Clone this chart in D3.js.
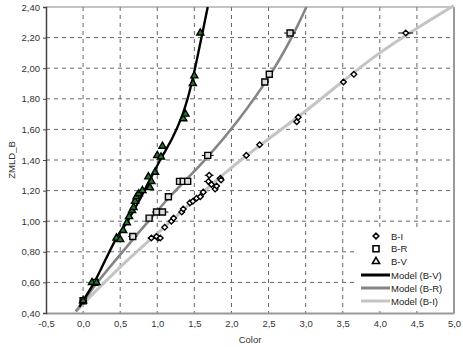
<!DOCTYPE html>
<html>
<head>
<meta charset="utf-8">
<script src="https://cdn.jsdelivr.net/npm/d3@7"></script>
<style>
  body { margin: 0; background: #fff; }
  svg { display: block; font-family: "Liberation Sans", Arial, sans-serif; }
  .tick text { fill: #333; font-size: 9.5px; }
</style>
</head>
<body>
<div id="chart"></div>
<script>
// ---- Data ----
const xTicks = [-0.5, 0, 0.5, 1, 1.5, 2, 2.5, 3, 3.5, 4, 4.5, 5];
const yTicks = [0.4, 0.6, 0.8, 1.0, 1.2, 1.4, 1.6, 1.8, 2.0, 2.2, 2.4];

// observed points: [color, ZMLD_B, half error]
const pointsBI = [
  [0.00, 0.48, 0.03], [0.16, 0.60, 0.03], [0.92, 0.89, 0.05], [1.01, 0.89, 0.05],
  [0.99, 0.90, 0.04], [1.04, 0.89, 0.04], [1.10, 0.96, 0.03], [1.19, 1.00, 0.04],
  [1.22, 1.02, 0.04], [1.33, 1.06, 0.04], [1.35, 1.08, 0.04], [1.44, 1.12, 0.04],
  [1.48, 1.13, 0.04], [1.53, 1.15, 0.04], [1.58, 1.16, 0.04], [1.62, 1.19, 0.04],
  [1.70, 1.30, 0.06], [1.69, 1.26, 0.06], [1.73, 1.24, 0.05], [1.78, 1.21, 0.04],
  [1.80, 1.23, 0.04], [1.85, 1.28, 0.05], [1.86, 1.27, 0.04], [2.20, 1.43, 0.05],
  [2.38, 1.50, 0.03], [2.88, 1.65, 0.03], [2.90, 1.68, 0.03], [3.51, 1.91, 0.03],
  [3.65, 1.96, 0.03], [4.35, 2.23, 0.10]
];
const pointsBR = [
  [0.00, 0.48, 0.03], [0.16, 0.60, 0.03], [0.67, 0.90, 0.06], [0.89, 1.02, 0.04],
  [0.99, 1.06, 0.06], [1.07, 1.06, 0.08], [1.15, 1.16, 0.03], [1.30, 1.26, 0.04],
  [1.35, 1.26, 0.04], [1.41, 1.26, 0.04], [1.68, 1.43, 0.08], [2.45, 1.91, 0.03],
  [2.51, 1.96, 0.03], [2.79, 2.23, 0.08]
];
const pointsBV = [
  [0.00, 0.48, 0.03], [0.12, 0.60, 0.03], [0.18, 0.60, 0.03], [0.45, 0.89, 0.03],
  [0.50, 0.88, 0.03], [0.54, 0.94, 0.03], [0.59, 0.99, 0.03], [0.62, 1.03, 0.03],
  [0.66, 1.07, 0.03], [0.68, 1.09, 0.03], [0.70, 1.13, 0.03], [0.72, 1.16, 0.03],
  [0.75, 1.18, 0.03], [0.80, 1.20, 0.03], [0.88, 1.29, 0.03], [0.90, 1.22, 0.03],
  [0.92, 1.26, 0.03], [0.97, 1.32, 0.03], [1.00, 1.43, 0.03], [1.05, 1.42, 0.03],
  [1.07, 1.49, 0.03], [1.35, 1.67, 0.03], [1.38, 1.70, 0.03], [1.48, 1.90, 0.03],
  [1.50, 1.95, 0.03], [1.58, 2.23, 0.03]
];

// model curves: [color, ZMLD_B]
const modelBV = [
  [-0.05, 0.44], [0.00, 0.48], [0.15, 0.60], [0.45, 0.89], [0.60, 1.00], [0.75, 1.13],
  [0.90, 1.27], [1.05, 1.41], [1.20, 1.54], [1.32, 1.67], [1.42, 1.82], [1.50, 1.98],
  [1.57, 2.14], [1.63, 2.28], [1.68, 2.40]
];
const modelBR = [
  [-0.10, 0.41], [0.00, 0.47], [0.16, 0.58], [0.67, 0.88], [0.90, 1.01], [1.15, 1.15],
  [1.68, 1.42], [2.09, 1.66], [2.50, 1.94], [2.81, 2.20], [3.01, 2.40]
];
const modelBI = [
  [-0.10, 0.41], [0.00, 0.46], [0.50, 0.70], [1.00, 0.92], [2.00, 1.35], [3.00, 1.72],
  [4.00, 2.10], [5.00, 2.41]
];

// ---- Layout ----
const W = 463, H = 347;
const margin = {top: 7, right: 9, bottom: 34, left: 46};
const w = W - margin.left - margin.right;
const h = H - margin.top - margin.bottom;

const svg = d3.select("#chart").append("svg")
  .attr("width", W).attr("height", H);

const g = svg.append("g")
  .attr("transform", `translate(${margin.left},${margin.top})`);

const x = d3.scaleLinear().domain([-0.5, 5]).range([0, w]);
const y = d3.scaleLinear().domain([0.4, 2.4]).range([h, 0]);

const fmtX = d => d3.format(".1f")(d).replace(".", ",").replace("−", "-");
const fmtY = d => d3.format(".2f")(d).replace(".", ",");

// grid
g.append("g").selectAll("line").data(xTicks.slice(1, -1)).join("line")
  .attr("x1", d => x(d)).attr("x2", d => x(d))
  .attr("y1", 0).attr("y2", h)
  .attr("stroke", "#666").attr("stroke-dasharray", "4,4");
g.append("g").selectAll("line").data(yTicks.slice(1, -1)).join("line")
  .attr("x1", 0).attr("x2", w)
  .attr("y1", d => y(d)).attr("y2", d => y(d))
  .attr("stroke", "#666").attr("stroke-dasharray", "4,4");

// frame: top and right in gray
g.append("line").attr("x1", 0).attr("x2", w).attr("y1", 0).attr("y2", 0)
  .attr("stroke", "#888").attr("stroke-width", 1);
g.append("line").attr("x1", w).attr("x2", w).attr("y1", 0).attr("y2", h)
  .attr("stroke", "#999").attr("stroke-width", 2);

// axes
const xAxis = g.append("g").attr("transform", `translate(0,${h})`)
  .call(d3.axisBottom(x).tickValues(xTicks).tickFormat(fmtX).tickSize(0).tickPadding(7));
xAxis.select(".domain").attr("stroke", "#999").attr("stroke-width", 2);

const yAxis = g.append("g")
  .call(d3.axisLeft(y).tickValues(yTicks).tickFormat(fmtY).tickSize(3).tickPadding(3));
yAxis.select(".domain").attr("stroke", "#444").attr("stroke-width", 1.5);
yAxis.selectAll(".tick line").attr("stroke", "#444");

svg.append("text")
  .attr("x", margin.left + w / 2).attr("y", 343)
  .attr("text-anchor", "middle").attr("font-size", 9.5).attr("fill", "#333")
  .text("Color");
svg.append("text")
  .attr("transform", `translate(15,${margin.top + h / 2}) rotate(-90)`)
  .attr("text-anchor", "middle").attr("font-size", 9.5).attr("fill", "#333")
  .text("ZMLD_B");

// model curves
const line = d3.line().x(d => x(d[0])).y(d => y(d[1])).curve(d3.curveCatmullRom);
const models = [
  {data: modelBI, color: "#c4c4c4", width: 3},
  {data: modelBR, color: "#858585", width: 2.6},
  {data: modelBV, color: "#000", width: 2.4}
];
svg.append("clipPath").attr("id", "clip")
  .append("rect").attr("width", w).attr("height", h + 2).attr("y", -2);
g.append("g").attr("clip-path", "url(#clip)")
  .selectAll("path").data(models).join("path")
  .attr("d", d => line(d.data))
  .attr("fill", "none").attr("stroke", d => d.color).attr("stroke-width", d => d.width);

// markers
const symDiamond = d3.symbol().type(d3.symbolDiamond2).size(20)();
const symSquare = d3.symbol().type(d3.symbolSquare).size(36)();
const symTriangle = d3.symbol().type(d3.symbolTriangle).size(22)();

const series = [
  {data: pointsBI, path: symDiamond, fill: "#fff"},
  {data: pointsBR, path: symSquare, fill: "#ddd"},
  {data: pointsBV, path: symTriangle, fill: "#1f7a2a"}
];

series.forEach(s => {
  const grp = g.append("g");
  grp.selectAll("line").data(s.data).join("line")
    .attr("x1", d => x(d[0] - d[2])).attr("x2", d => x(d[0] + d[2]))
    .attr("y1", d => y(d[1])).attr("y2", d => y(d[1]))
    .attr("stroke", "#000").attr("stroke-width", 1);
  grp.selectAll("path").data(s.data).join("path")
    .attr("d", s.path)
    .attr("transform", d => `translate(${x(d[0])},${y(d[1])})`)
    .attr("fill", s.fill).attr("stroke", "#000").attr("stroke-width", 1.4);
});

// ---- Legend ----
const legend = svg.append("g").attr("transform", "translate(360,229)");
legend.append("rect").attr("x", -2).attr("y", 0).attr("width", 92).attr("height", 80)
  .attr("fill", "#fff");
const legItems = [
  {label: "B-I", path: symDiamond},
  {label: "B-R", path: symSquare},
  {label: "B-V", path: symTriangle}
];
legItems.forEach((d, i) => {
  const yy = 7 + i * 12.7;
  legend.append("path").attr("d", d.path)
    .attr("transform", `translate(16,${yy})`)
    .attr("fill", "#fff").attr("stroke", "#000").attr("stroke-width", 1.6);
  legend.append("text").attr("x", 31).attr("y", yy + 3.5)
    .attr("font-size", 9.5).attr("fill", "#222").text(d.label);
});
const legLines = [
  {label: "Model (B-V)", color: "#000"},
  {label: "Model (B-R)", color: "#858585"},
  {label: "Model (B-I)", color: "#c4c4c4"}
];
legLines.forEach((d, i) => {
  const yy = 46 + i * 13;
  legend.append("line").attr("x1", 1).attr("x2", 30).attr("y1", yy).attr("y2", yy)
    .attr("stroke", d.color).attr("stroke-width", 3);
  legend.append("text").attr("x", 31).attr("y", yy + 3.5)
    .attr("font-size", 9.5).attr("fill", "#222").text(d.label);
});
</script>
</body>
</html>
